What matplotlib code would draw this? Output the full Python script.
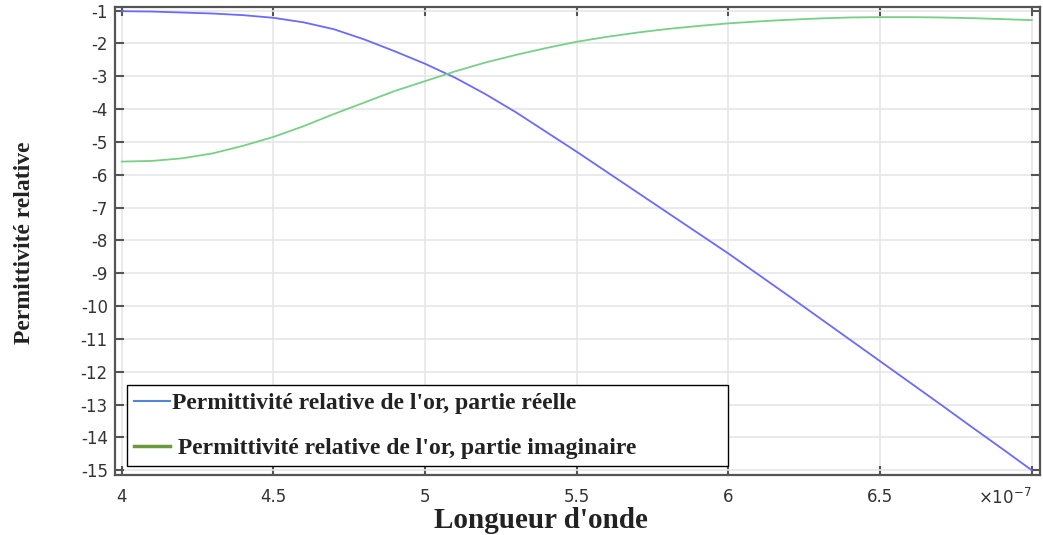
import matplotlib
matplotlib.use("Agg")
import matplotlib.pyplot as plt
from matplotlib.lines import Line2D

plt.rcParams["axes.unicode_minus"] = False

# Longueur d'onde (en 1e-7 m)
lam = [4.0, 4.1, 4.2, 4.3, 4.4, 4.5, 4.6, 4.7, 4.8, 4.9, 5.0, 5.1, 5.2, 5.3, 5.4, 5.5,
       5.6, 5.7, 5.8, 5.9, 6.0, 6.1, 6.2, 6.3, 6.4, 6.5, 6.6, 6.7, 6.8, 6.9, 7.0]
# partie réelle
eps_re = [-1.02, -1.03, -1.06, -1.09, -1.14, -1.22, -1.36, -1.57, -1.88, -2.24, -2.62, -3.05,
          -3.55, -4.1, -4.7, -5.3, -5.92, -6.54, -7.16, -7.78, -8.4, -9.05, -9.7, -10.36,
          -11.02, -11.68, -12.34, -13.0, -13.67, -14.33, -15.0]
# partie imaginaire
eps_im = [-5.6, -5.58, -5.5, -5.35, -5.12, -4.85, -4.52, -4.15, -3.8, -3.45, -3.15, -2.85,
          -2.58, -2.35, -2.14, -1.95, -1.8, -1.67, -1.56, -1.47, -1.39, -1.33, -1.28, -1.24,
          -1.21, -1.2, -1.2, -1.21, -1.23, -1.26, -1.29]

xticks = [4, 4.5, 5, 5.5, 6, 6.5, 7]
xticklabels = ["4", "4.5", "5", "5.5", "6", "6.5", "×10$^{-7}$"]
yticks = list(range(-15, 0))
labels = ["Permittivité relative de l'or, partie réelle",
          " Permittivité relative de l'or, partie imaginaire"]

fig = plt.figure(figsize=(10.43, 5.35), dpi=100)
ax = fig.add_axes([0.110, 0.112, 0.887, 0.875])

ax.plot(lam, eps_re, color="#6a6aff", lw=1.3)
ax.plot(lam, eps_im, color="#78d088", lw=1.3)

ax.set_xlim(3.977, 7.027)
ax.set_ylim(-15.15, -0.89)
ax.set_xticks(xticks)
ax.set_xticklabels(xticklabels)
ax.get_xticklabels()[-1].set_horizontalalignment("right")
ax.set_yticks(yticks)
ax.grid(True, color="#e6e6e6", lw=1.2)
ax.set_axisbelow(True)
ax.tick_params(axis="both", labelsize=12, colors="#555555", labelcolor="#333333",
               direction="in", length=6.5, width=1.5, top=True, right=True)
ax.tick_params(axis="x", pad=9)
ax.tick_params(axis="y", pad=5)
for s in ax.spines.values():
    s.set_color("#555555")
    s.set_linewidth(1.6)

fig.text(541 / 1043, 1 - 520 / 535, "Longueur d'onde", family="Liberation Serif",
         fontweight="bold", fontsize=21, ha="center", va="center", color="#222222")
fig.text(25 / 1043, 1 - 243 / 535, "Permittivité relative", family="Liberation Serif",
         fontweight="bold", fontsize=17, ha="center", va="center", rotation=90, color="#222222")

handles = [Line2D([], [], color="#4f86d8", lw=1.5), Line2D([], [], color="#6b9a3c", lw=2.5)]
leg = ax.legend(handles, labels, loc="lower left", bbox_to_anchor=(0.0135, 0.019, 0.649, 0.18),
                mode="expand", prop={"family": "Liberation Serif", "weight": "bold", "size": 17},
                frameon=True, fancybox=False, edgecolor="black", framealpha=1,
                handlelength=1.5, handletextpad=0.1, labelspacing=1.0,
                borderpad=0.3, borderaxespad=0)
leg.get_frame().set_linewidth(1.0)
for t in leg.get_texts():
    t.set_color("#222222")

fig.savefig("out.png", dpi=100)
